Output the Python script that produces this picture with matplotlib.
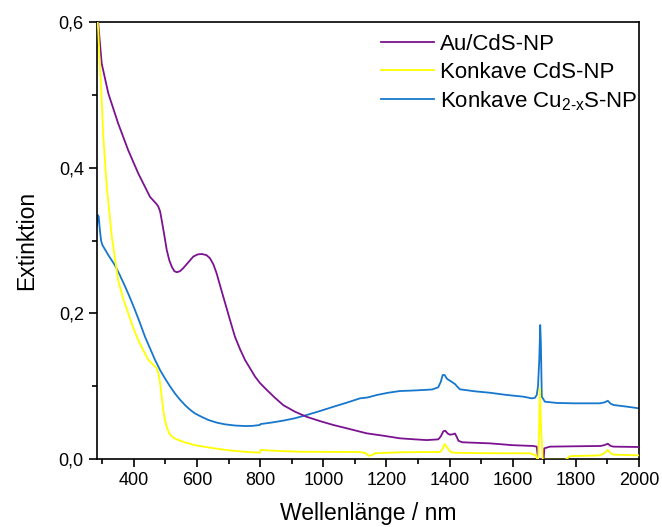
import numpy as np
import matplotlib.pyplot as plt
from matplotlib.ticker import MultipleLocator, FuncFormatter

plt.rcParams['font.family'] = ['Liberation Sans', 'DejaVu Sans']
plt.rcParams['mathtext.fontset'] = 'custom'
plt.rcParams['mathtext.rm'] = 'Liberation Sans'

# Au/CdS-NP
wl_au = [283, 287, 298, 319, 350, 382, 414, 451, 470, 477, 483, 488, 496, 504, 512, 520, 528,
         536, 546, 556, 572, 588, 602, 615, 630, 641, 652, 662, 675, 689, 705, 720, 736, 752,
         768, 784, 800, 821, 847, 873, 910, 947, 990, 1032, 1085, 1137, 1190, 1243, 1290,
         1328, 1364, 1372, 1380, 1386, 1394, 1401, 1410, 1417, 1423, 1428, 1440, 1528, 1600,
         1665, 1676, 1679, 1681, 1698, 1700, 1718, 1800, 1877, 1890, 1901, 1910, 1919, 2000]
ext_au = [0.600, 0.598, 0.543, 0.502, 0.461, 0.424, 0.392, 0.360, 0.351, 0.347, 0.340, 0.328,
          0.308, 0.287, 0.273, 0.264, 0.258, 0.2565, 0.258, 0.262, 0.270, 0.278, 0.281,
          0.2816, 0.280, 0.2757, 0.267, 0.255, 0.235, 0.214, 0.190, 0.168, 0.151, 0.136,
          0.1245, 0.113, 0.104, 0.0948, 0.084, 0.074, 0.065, 0.058, 0.052, 0.0467, 0.041,
          0.0353, 0.032, 0.0284, 0.027, 0.026, 0.027, 0.031, 0.038, 0.0389, 0.035, 0.0334,
          0.034, 0.035, 0.030, 0.025, 0.023, 0.0215, 0.019, 0.0179, 0.017, 0.005, 0.0, 0.0,
          0.0147, 0.017, 0.0175, 0.0179, 0.019, 0.021, 0.018, 0.017, 0.0165]

# Konkave CdS-NP
wl_cds = [285, 287, 291, 296, 303, 314, 330, 350, 366, 382, 398, 414, 430, 446, 460, 472, 478,
          483, 488, 493, 498, 504, 512, 520, 530, 560, 593, 650, 699, 750, 799, 801, 860, 926,
          1020, 1116, 1135, 1143, 1152, 1165, 1250, 1348, 1370, 1378, 1384, 1392, 1400, 1410,
          1500, 1655, 1673, 1680, 1683, 1686, 1690, 1695, 1767, 1782, 1877, 1890, 1901, 1910,
          1919, 2000]
ext_cds = [0.600, 0.589, 0.550, 0.511, 0.443, 0.374, 0.305, 0.246, 0.220, 0.200, 0.180, 0.163,
           0.149, 0.136, 0.130, 0.1246, 0.117, 0.104, 0.086, 0.067, 0.054, 0.044, 0.035,
           0.031, 0.028, 0.023, 0.019, 0.015, 0.012, 0.010, 0.0087, 0.0124, 0.011, 0.010,
           0.0098, 0.0096, 0.008, 0.0045, 0.005, 0.008, 0.0093, 0.0096, 0.0095, 0.014,
           0.0206, 0.016, 0.011, 0.0087, 0.008, 0.0078, 0.005, -0.003, 0.030, 0.097, 0.040,
           -0.001, -0.001, 0.004, 0.005, 0.008, 0.0124, 0.008, 0.006, 0.005]

# Konkave Cu2-xS-NP
wl_cu = [283, 286, 288.5, 292, 296, 300, 319, 340, 356, 372, 388, 403, 419, 435, 451, 467, 483,
         498, 514, 530, 546, 562, 577, 593, 614, 636, 662, 689, 720, 752, 775, 799, 801, 835,
         873, 910, 947, 990, 1032, 1075, 1116, 1130, 1140, 1169, 1205, 1243, 1280, 1317, 1345,
         1364, 1372, 1378, 1384, 1392, 1401, 1417, 1425, 1433, 1480, 1528, 1580, 1634, 1660,
         1670, 1676, 1680, 1684, 1687, 1689, 1692, 1702, 1740, 1792, 1877, 1892, 1901, 1910,
         1919, 1960, 2000]
ext_cu = [0.320, 0.335, 0.333, 0.315, 0.300, 0.294, 0.280, 0.266, 0.252, 0.237, 0.221, 0.205,
          0.187, 0.168, 0.152, 0.136, 0.122, 0.111, 0.100, 0.090, 0.0815, 0.074, 0.068,
          0.0627, 0.058, 0.0536, 0.050, 0.0476, 0.046, 0.0453, 0.0455, 0.0467, 0.048, 0.050,
          0.0527, 0.056, 0.0604, 0.066, 0.0718, 0.0775, 0.0833, 0.084, 0.0845, 0.0879, 0.091,
          0.0934, 0.094, 0.0948, 0.0955, 0.0985, 0.106, 0.1154, 0.1154, 0.110, 0.1076, 0.103,
          0.099, 0.0957, 0.093, 0.091, 0.088, 0.0856, 0.0833, 0.084, 0.088, 0.100, 0.136,
          0.184, 0.160, 0.0856, 0.0787, 0.077, 0.0765, 0.0765, 0.078, 0.080, 0.076, 0.0742,
          0.072, 0.0696]

fig = plt.figure(figsize=(6.62, 5.27), dpi=100)
ax = fig.add_axes([0.1465, 0.129, 0.8188, 0.829])

ax.plot(wl_au, ext_au, color='#7b1290', lw=1.3, label='Au/CdS-NP', zorder=3)
ax.plot(wl_cds, ext_cds, color='#ffff00', lw=1.3, label='Konkave CdS-NP', zorder=4)
ax.plot(wl_cu, ext_cu, color='#1677cc', lw=1.3,
        label='Konkave Cu$_{\\mathrm{2\u2010x}}$S-NP', zorder=2)

ax.set_xlim(283, 2000)
ax.set_ylim(0, 0.6)
ax.xaxis.set_major_locator(MultipleLocator(200))
ax.xaxis.set_minor_locator(MultipleLocator(100))
ax.yaxis.set_major_locator(MultipleLocator(0.2))
ax.yaxis.set_minor_locator(MultipleLocator(0.1))
ax.yaxis.set_major_formatter(FuncFormatter(lambda v, p: f'{v:.1f}'.replace('.', ',')))
ax.tick_params(which='major', direction='out', length=6, width=1.2, labelsize=13)
ax.tick_params(which='minor', direction='out', length=3.5, width=1.2)
for s in ax.spines.values():
    s.set_linewidth(1.2)

ax.set_xlabel('Wellenlänge / nm', fontsize=16.5, labelpad=9)
ax.set_ylabel('Extinktion', fontsize=16.5, labelpad=15)

handles, labels = ax.get_legend_handles_labels()
ax.legend(handles, labels, loc='upper right', bbox_to_anchor=(0.998, 0.973),
          frameon=False, fontsize=16, handlelength=2.35, handletextpad=0.3,
          borderpad=0, borderaxespad=0, labelspacing=0.3)

fig.savefig('out.png', dpi=100)
